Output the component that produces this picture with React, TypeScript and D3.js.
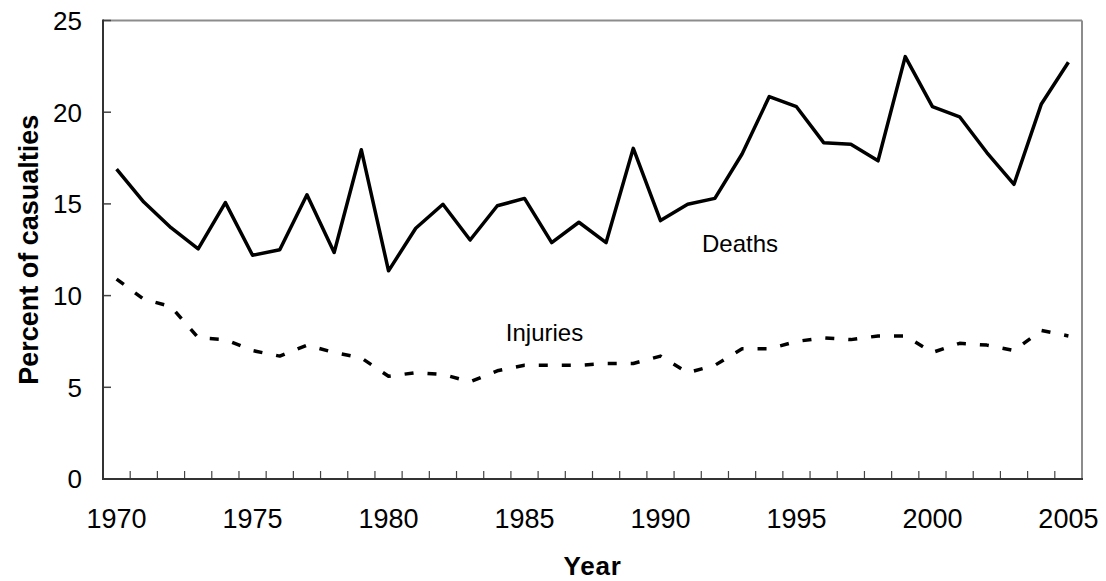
import React from "react";
import * as d3 from "d3";

const years: number[] = Array.from({ length: 36 }, (_, i) => 1970 + i);
const deaths: number[] = [
  16.9, 15.1, 13.7, 12.55, 15.07, 12.2, 12.5, 15.5, 12.35, 17.95,
  11.35, 13.67, 14.98, 13.03, 14.9, 15.3, 12.89, 14.0, 12.89, 18.03,
  14.09, 14.98, 15.3, 17.72, 20.85, 20.3, 18.34, 18.25, 17.35, 23.03,
  20.3, 19.75, 17.8, 16.07, 20.43, 22.72,
];
const injuries: number[] = [
  10.9, 9.8, 9.4, 7.7, 7.6, 7.0, 6.7, 7.3, 6.9, 6.6,
  5.6, 5.8, 5.7, 5.3, 5.9, 6.2, 6.2, 6.2, 6.3, 6.3,
  6.7, 5.8, 6.2, 7.1, 7.1, 7.5, 7.7, 7.6, 7.8, 7.8,
  6.9, 7.4, 7.3, 7.0, 8.1, 7.8,
];
const yTicks: number[] = [0, 5, 10, 15, 20, 25];
const xLabelYears: number[] = [1970, 1975, 1980, 1985, 1990, 1995, 2000, 2005];

const FONT = "'Liberation Sans', Arial, Helvetica, sans-serif";

export default function App() {
  const W = 1106;
  const H = 581;
  const left = 103;
  const right = 1082;
  const top = 20.5;
  const bottom = 479;

  const x = d3
    .scaleBand<number>()
    .domain(years)
    .range([left, right])
    .paddingInner(0)
    .paddingOuter(0);
  const cx = (yr: number) => (x(yr) as number) + x.bandwidth() / 2;
  const y = d3.scaleLinear().domain([0, 25]).range([bottom, top]);

  const line = d3
    .line<number>()
    .x((_, i) => cx(years[i]))
    .y((d) => y(d));

  const boundaries = years.slice(1).map((yr) => x(yr) as number);

  return (
    <svg
      width={W}
      height={H}
      style={{ position: "absolute", left: 0, top: 0, background: "#fff" }}
    >
      <rect x={0} y={0} width={W} height={H} fill="#fff" />
      {/* plot frame */}
      <line x1={left} x2={right} y1={top} y2={top} stroke="#8c8c8c" strokeWidth={2} />
      <line x1={right} x2={right} y1={top} y2={bottom} stroke="#8c8c8c" strokeWidth={2} />
      {/* y ticks */}
      {yTicks.map((t) => (
        <g key={t}>
          <line x1={left} x2={left + 8} y1={y(t)} y2={y(t)} stroke="#444" strokeWidth={1.5} />
          <text
            x={82}
            y={y(t)}
            dy="0.36em"
            textAnchor="end"
            fontFamily={FONT}
            fontSize={26}
            fill="#000"
          >
            {t}
          </text>
        </g>
      ))}
      {/* x ticks */}
      {boundaries.map((b, i) => (
        <line key={i} x1={b} x2={b} y1={bottom} y2={bottom - 8} stroke="#444" strokeWidth={1.2} />
      ))}
      {xLabelYears.map((yr) => (
        <text
          key={yr}
          x={cx(yr)}
          y={528}
          textAnchor="middle"
          fontFamily={FONT}
          fontSize={27}
          fill="#000"
        >
          {yr}
        </text>
      ))}
      {/* axes */}
      <line x1={left} x2={left} y1={top - 1} y2={bottom + 1} stroke="#333" strokeWidth={2} />
      <line x1={left - 1} x2={right + 1} y1={bottom} y2={bottom} stroke="#333" strokeWidth={2} />
      {/* series */}
      <path
        d={line(injuries) as string}
        fill="none"
        stroke="#000"
        strokeWidth={3.5}
        strokeDasharray="9,14"
        strokeLinejoin="round"
      />
      <path
        d={line(deaths) as string}
        fill="none"
        stroke="#000"
        strokeWidth={3.5}
        strokeLinejoin="round"
      />
      {/* labels */}
      <text
        x={cx(1993) - 2}
        y={y(12.4)}
        textAnchor="middle"
        fontFamily={FONT}
        fontSize={24}
        fill="#000"
      >
        Deaths
      </text>
      <text
        x={cx(1985) + 20}
        y={y(7.5)}
        textAnchor="middle"
        fontFamily={FONT}
        fontSize={24}
        fill="#000"
      >
        Injuries
      </text>
      <text
        x={(left + right) / 2}
        y={575}
        textAnchor="middle"
        fontFamily={FONT}
        fontSize={26}
        fontWeight="bold"
        letterSpacing={0.8}
        fill="#000"
      >
        Year
      </text>
      <text
        transform={`translate(38, ${(top + bottom) / 2}) rotate(-90)`}
        textAnchor="middle"
        fontFamily={FONT}
        fontSize={27}
        fontWeight="bold"
        fill="#000"
      >
        Percent of casualties
      </text>
    </svg>
  );
}
